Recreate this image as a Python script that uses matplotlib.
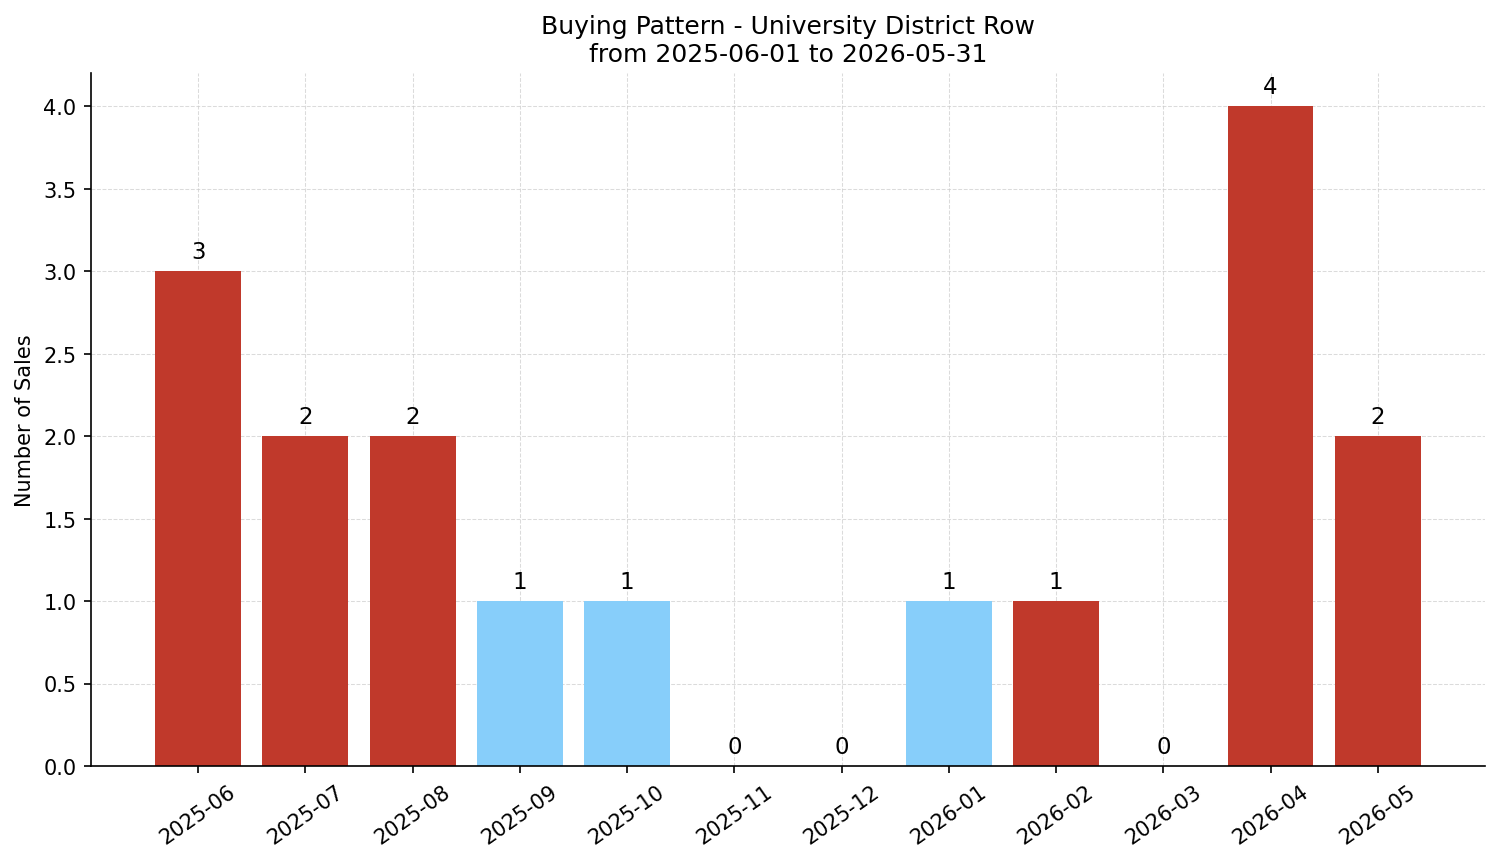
import matplotlib
matplotlib.use("Agg")
import matplotlib.pyplot as plt

months = ["2025-06", "2025-07", "2025-08", "2025-09", "2025-10", "2025-11",
          "2025-12", "2026-01", "2026-02", "2026-03", "2026-04", "2026-05"]
sales = [3, 2, 2, 1, 1, 0, 0, 1, 1, 0, 4, 2]
bar_colors = ["#c0392b", "#c0392b", "#c0392b", "#87cefa", "#87cefa", "#87cefa",
              "#87cefa", "#87cefa", "#c0392b", "#87cefa", "#c0392b", "#c0392b"]

fig, ax = plt.subplots(figsize=(10.0, 5.753), dpi=150)
x = list(range(len(months)))
bars = ax.bar(x, sales, color=bar_colors, width=0.8, zorder=2)
for xi, v in zip(x, sales):
    ax.text(xi, v + 0.05, str(v), ha="center", va="bottom", fontsize=11)

ax.set_xticks(x)
ax.set_xticklabels(months, rotation=35)
ax.set_xlim(-1, 12)
ax.set_ylim(0, 4.2)
ax.set_ylabel("Number of Sales")
ax.set_title("Buying Pattern - University District Row\nfrom 2025-06-01 to 2026-05-31", fontsize=12)
ax.grid(True, linestyle="--", color="#cccccc", alpha=0.7, linewidth=0.5, zorder=3)
ax.spines["top"].set_visible(False)
ax.spines["right"].set_visible(False)
fig.subplots_adjust(left=0.0606, right=0.990, top=0.9142, bottom=0.1112)
fig.savefig("out.png", dpi=150)
